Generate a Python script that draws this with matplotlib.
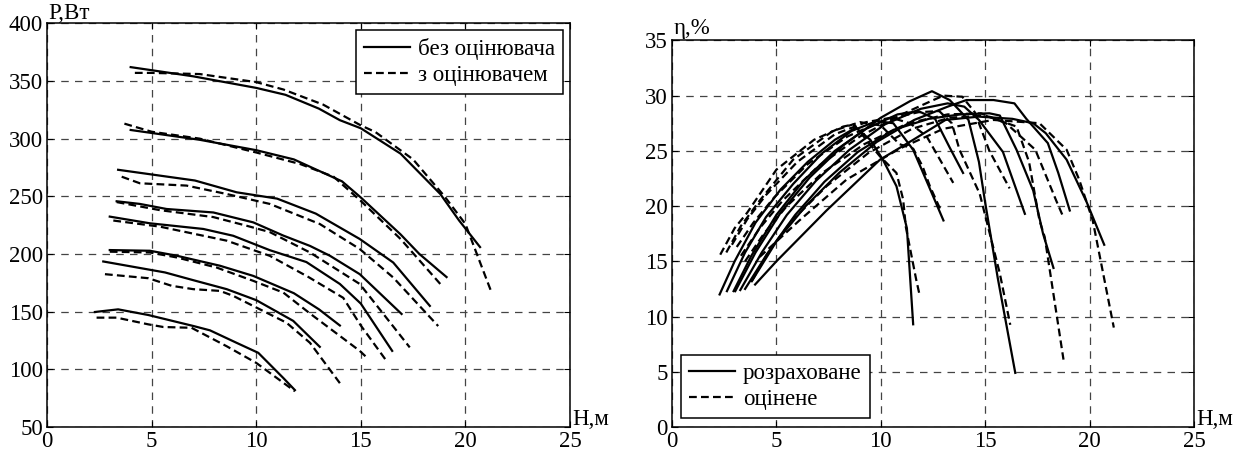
import matplotlib
matplotlib.use("Agg")
import matplotlib.pyplot as plt

# ---------------- data: left plot (P, W vs H, m) ----------------
left_labels = ["без оцінювача", "з оцінювачем"]
left_solid_H = [
    [4.0, 7.0, 10.0, 11.4, 13.0, 14.0, 15.0, 16.9, 18.8, 19.7, 20.7],
    [4.0, 7.3, 10.0, 11.8, 14.1, 15.0, 16.9, 17.8, 19.1],
    [3.4, 7.07, 9.06, 11.0, 12.85, 14.95, 16.55, 18.3],
    [3.33, 4.44, 5.72, 7.95, 9.86, 11.29, 12.57, 13.52, 14.95, 16.95],
    [3.0, 4.92, 7.47, 8.9, 10.65, 12.4, 14.0, 15.0, 16.5],
    [3.0, 4.92, 6.2, 8.27, 9.86, 11.8, 13.0, 14.0],
    [2.69, 5.64, 6.99, 8.59, 10.0, 11.77, 13.04],
    [2.29, 3.4, 4.84, 6.99, 7.79, 9.06, 10.1, 11.29, 11.85],
]
left_solid_P = [
    [362, 354, 344, 338, 326, 316, 309, 287, 252, 229, 206],
    [307.5, 299, 290, 282, 263, 249, 217, 200, 180],
    [273, 263.7, 253.5, 248, 235, 213, 192.6, 155],
    [245.7, 243.4, 239, 236, 227.4, 216, 207, 198.5, 182.5, 148],
    [232.4, 226.6, 221.7, 215.8, 203.3, 193, 174, 157, 116],
    [203.4, 202.8, 198.5, 189.8, 181, 166, 152, 138],
    [193.5, 184, 177.3, 169.5, 160, 142, 119.5],
    [149.7, 152, 147.1, 137.6, 133.8, 123, 114.3, 92.6, 82],
]
left_dash_H = [
    [4.2, 5.0, 7.3, 10.0, 11.3, 13.2, 15.0, 15.7, 17.5, 19.0, 20.0, 21.2],
    [3.7, 5.0, 7.3, 10.0, 12.1, 13.7, 15.0, 16.9, 18.8],
    [3.57, 4.44, 6.67, 8.59, 10.65, 13.04, 14.95, 16.55, 18.7],
    [3.33, 5.4, 7.95, 9.54, 10.65, 12.57, 14.95, 17.34],
    [3.17, 5.4, 8.6, 10.65, 12.5, 14.16, 15.0, 16.2],
    [3.0, 4.92, 6.2, 8.1, 9.86, 11.3, 12.6, 14.95, 15.3],
    [2.77, 4.84, 5.96, 6.99, 8.27, 8.9, 10.18, 11.45, 12.57, 14.0],
    [2.37, 3.33, 4.84, 5.56, 6.91, 8.59, 10.0, 11.85],
]
left_dash_P = [
    [357, 357, 356, 349, 342.6, 329.5, 311.5, 305.7, 282, 250, 226, 169],
    [313, 306, 300, 288, 278, 267, 246, 213, 174],
    [267, 261.3, 259.3, 252, 243.4, 226, 204.3, 179.6, 137.5],
    [245, 238, 232, 224.5, 219, 201.3, 174, 119],
    [229, 223.7, 211.5, 198.4, 180, 162, 138, 108],
    [202, 201.3, 197, 188.3, 176.7, 166.5, 148, 116, 110],
    [182.5, 179, 172.4, 169.5, 168, 163.7, 152, 140.4, 123, 88],
    [144.8, 144.8, 139, 136.7, 136, 120, 105.6, 81],
]

# ---------------- data: right plot (efficiency, % vs H, m) ----------------
right_labels = ["розраховане", "оцінене"]
right_solid_H = [
    [2.28, 3.0, 4.0, 5.2, 6.5, 7.8, 8.8, 9.5, 10.1, 10.75, 11.25, 11.55],
    [2.63, 3.5, 4.5, 5.8, 7.2, 8.6, 9.8, 10.6, 11.55, 12.3, 13.0],
    [2.95, 3.8, 5.0, 6.3, 7.8, 9.3, 10.8, 11.8, 12.6, 13.3, 13.94],
    [3.03, 4.0, 5.2, 6.6, 8.2, 10.0, 11.4, 12.45, 13.3, 14.2, 14.7, 15.0, 15.6, 16.44],
    [3.27, 4.3, 5.5, 6.9, 8.5, 10.2, 11.9, 13.2, 14.0, 14.7, 15.85, 16.9],
    [3.5, 4.6, 5.9, 7.3, 8.9, 10.6, 12.3, 13.8, 15.2, 15.7, 16.5, 17.3, 17.77, 18.27],
    [3.82, 5.0, 6.4, 8.0, 9.8, 11.6, 13.2, 14.1, 15.4, 16.4, 16.97, 18.0, 18.5, 19.05],
    [3.98, 5.0, 7.4, 9.96, 11.55, 13.1, 14.7, 16.3, 17.3, 17.9, 18.9, 19.85, 20.7],
]
right_solid_E = [
    [12.0, 15.0, 18.5, 21.5, 24.0, 26.0, 27.1, 26.0, 24.2, 21.8, 18.0, 9.3],
    [12.3, 15.8, 19.0, 22.0, 24.8, 26.8, 27.7, 27.5, 25.1, 21.8, 18.7],
    [12.3, 15.5, 19.2, 22.3, 25.0, 27.0, 28.3, 28.6, 27.9, 25.3, 23.0],
    [12.3, 15.8, 19.4, 22.6, 25.5, 28.0, 29.5, 30.4, 29.6, 27.8, 24.0, 20.3, 13.5, 4.9],
    [12.4, 15.8, 19.2, 22.3, 25.1, 27.4, 28.8, 29.3, 29.0, 27.8, 24.9, 19.3],
    [12.5, 15.8, 19.2, 22.2, 24.9, 26.9, 27.9, 28.3, 28.4, 28.2, 25.1, 21.4, 17.5, 14.4],
    [13.2, 16.8, 20.0, 23.0, 25.8, 27.8, 29.0, 29.6, 29.6, 29.3, 27.9, 25.7, 23.0, 19.6],
    [12.9, 15.0, 19.6, 24.2, 26.0, 27.8, 28.1, 27.9, 27.5, 26.6, 24.2, 20.4, 16.5],
]
right_dash_H = [
    [2.31, 3.0, 3.6, 5.0, 6.8, 8.2, 8.7, 9.96, 10.75, 11.07, 11.2, 11.7, 11.84],
    [2.6, 3.3, 4.2, 5.8, 7.7, 9.0, 10.0, 10.9, 11.55, 12.0, 12.35, 12.9],
    [2.87, 3.6, 4.5, 6.0, 7.8, 9.3, 10.5, 11.4, 12.2, 13.47],
    [3.1, 3.9, 4.9, 6.5, 8.4, 10.2, 11.8, 12.8, 13.4, 13.77, 14.74, 15.7, 16.2],
    [3.3, 4.2, 5.3, 7.0, 9.0, 11.0, 12.4, 13.0, 13.9, 14.5, 15.2, 16.17],
    [3.5, 4.4, 5.5, 7.2, 9.2, 11.3, 13.2, 14.8, 16.0, 17.4, 18.4, 18.72],
    [3.82, 4.6, 5.7, 7.4, 9.4, 11.5, 13.3, 15.0, 16.5, 17.1, 17.6, 17.85, 18.75],
    [4.2, 6.1, 8.36, 10.9, 13.0, 15.4, 17.6, 18.9, 19.5, 20.15, 21.16],
]
right_dash_E = [
    [15.6, 18.0, 19.4, 23.3, 26.0, 27.2, 27.4, 24.5, 23.0, 20.6, 18.1, 13.3, 12.1],
    [15.8, 18.2, 20.5, 24.2, 26.8, 27.6, 27.3, 25.6, 25.2, 23.6, 21.8, 19.5],
    [16.5, 18.8, 21.0, 24.0, 26.5, 27.6, 28.0, 27.5, 26.3, 22.1],
    [16.3, 18.5, 20.8, 23.8, 26.3, 27.8, 28.5, 28.6, 27.5, 25.1, 21.1, 13.9, 9.25],
    [15.5, 18.0, 20.5, 23.6, 26.3, 28.3, 29.5, 30.0, 29.9, 28.5, 25.0, 21.6],
    [15.0, 17.5, 20.0, 23.0, 25.6, 27.5, 28.3, 28.4, 27.5, 25.1, 20.5, 19.1],
    [13.2, 15.8, 18.6, 21.8, 24.8, 27.0, 28.0, 28.2, 27.2, 24.0, 18.7, 17.2, 6.1],
    [15.4, 18.7, 22.4, 25.2, 27.0, 27.8, 27.5, 25.1, 22.4, 18.7, 9.0],
]

x_ticks = [0, 5, 10, 15, 20, 25]
left_yticks = [50, 100, 150, 200, 250, 300, 350, 400]
right_yticks = [0, 5, 10, 15, 20, 25, 30, 35]

# ---------------- style ----------------
plt.rcParams['font.family'] = ['Liberation Serif', 'DejaVu Serif']
FS = 16.5
LW = 1.6
DASH = (3.5, 1.9)

fig = plt.figure(figsize=(12.37, 4.53), dpi=100)
axL = fig.add_axes([47/1237, 26/453, 523/1237, 403.7/453])
axR = fig.add_axes([672/1237, 26/453, 522/1237, 386.6/453])


def style(ax, ylim, yticks):
    ax.set_xlim(0, 25)
    ax.set_ylim(*ylim)
    ax.set_xticks(x_ticks)
    ax.set_yticks(yticks)
    ax.tick_params(direction='in', length=4, width=0.8, labelsize=FS,
                   top=True, right=True)
    ax.tick_params(axis='y', pad=3)
    ax.tick_params(axis='x', pad=3)
    ax.grid(True, color='#444444', linestyle=(0, (6, 5)), linewidth=0.9)
    for s in ax.spines.values():
        s.set_linewidth(1.1)
        s.set_color('black')


def legend(ax, labels, loc, pad):
    hs = ax.plot([], [], color='black', lw=LW)[0]
    hd = ax.plot([], [], color='black', lw=LW, linestyle=(0, DASH))[0]
    leg = ax.legend([hs, hd], labels, loc=loc, fontsize=FS,
                    fancybox=False, framealpha=1, edgecolor='black',
                    handlelength=2.0, handletextpad=0.35, borderpad=0.35,
                    labelspacing=0.2, borderaxespad=pad)
    leg.get_frame().set_linewidth(1.1)
    return leg


for h, p in zip(left_solid_H, left_solid_P):
    axL.plot(h, p, color='black', lw=LW)
for h, p in zip(left_dash_H, left_dash_P):
    axL.plot(h, p, color='black', lw=LW, linestyle=(0, DASH))
style(axL, (50, 400), left_yticks)
legend(axL, left_labels, 'upper right', 0.3)
fig.text(48/1237, 1 - 19/453, "P,Вт", fontsize=FS, ha='left', va='baseline')
fig.text(572/1237, 1 - 425/453, "H,м", fontsize=FS, ha='left', va='baseline')

for h, e in zip(right_solid_H, right_solid_E):
    axR.plot(h, e, color='black', lw=LW)
for h, e in zip(right_dash_H, right_dash_E):
    axR.plot(h, e, color='black', lw=LW, linestyle=(0, DASH))
style(axR, (0, 35), right_yticks)
legend(axR, right_labels, 'lower left', 0.4)
fig.text(674/1237, 1 - 34/453, "η,%", fontsize=FS, ha='left', va='baseline')
fig.text(1196/1237, 1 - 425/453, "H,м", fontsize=FS, ha='left', va='baseline')

fig.savefig("out.png", dpi=100)
